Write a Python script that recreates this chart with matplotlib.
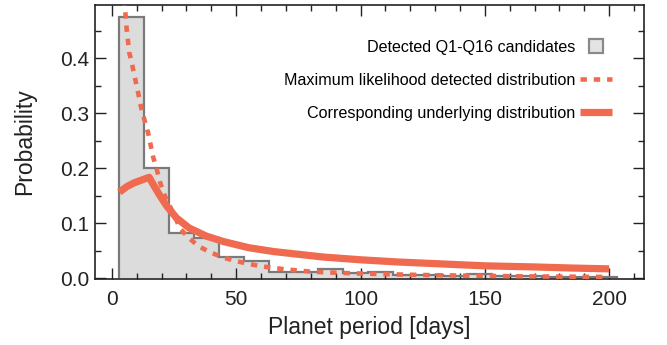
import numpy as np
import matplotlib
matplotlib.use("Agg")
import matplotlib.pyplot as plt
from matplotlib.lines import Line2D
from matplotlib.ticker import MultipleLocator

plt.rcParams['font.family'] = ['Liberation Sans', 'DejaVu Sans']

# --- data ---
bin_edges = [3, 13, 23, 33, 43, 53, 63, 73, 83, 93, 103, 113, 123, 133, 143,
             153, 163, 173, 183, 193, 203]
hist_prob = [0.476, 0.200, 0.082, 0.073, 0.0385, 0.032, 0.011, 0.012, 0.0173,
             0.010, 0.012, 0.006, 0.006, 0.005, 0.008, 0.005, 0.004, 0.003,
             0.003, 0.002]

ml_period = [3, 5.2, 5.9, 7.0, 7.9, 8.6, 10.6, 11.7, 13.3, 14.6, 16.6, 18.0,
             19.3, 20.9, 22, 24.7, 27.4, 31.1, 35.1, 39.4, 44.5, 49.5, 59.5,
             69.6, 80, 90, 100, 110, 120, 130, 140, 150, 160, 170, 180, 190, 200]
ml_prob = [0.62, 0.497, 0.455, 0.41, 0.395, 0.379, 0.337, 0.312, 0.285, 0.264,
           0.221, 0.199, 0.176, 0.155, 0.143, 0.119, 0.091, 0.073, 0.058, 0.048,
           0.0385, 0.032, 0.0225, 0.0167, 0.0124, 0.0105, 0.009, 0.0078, 0.0068,
           0.006, 0.0053, 0.0047, 0.0042, 0.0038, 0.0034, 0.0031, 0.0028]

under_period = [3, 6, 9, 12, 15, 17, 19, 22, 26, 31, 38, 45, 55, 65, 75, 85,
                100, 115, 130, 150, 170, 185, 200]
under_prob = [0.157, 0.167, 0.174, 0.179, 0.184, 0.168, 0.153, 0.132, 0.110,
              0.092, 0.077, 0.067, 0.056, 0.049, 0.044, 0.039, 0.034, 0.030,
              0.027, 0.023, 0.021, 0.019, 0.0175]

red = '#F06A4F'
fill_gray = '#DCDCDC'
edge_gray = '#7A7A7A'
ink = '#222222'

fig = plt.figure(figsize=(6.67, 3.45), dpi=100)
ax = fig.add_axes([0.1424, 0.1904, 0.9655 - 0.1424, 0.9864 - 0.1904])

# histogram as filled step
ax.stairs(hist_prob, bin_edges, fill=True, color=fill_gray, zorder=1)
ax.stairs(hist_prob, bin_edges, baseline=0, color=edge_gray, lw=1.6, zorder=2)

ax.plot(under_period, under_prob, color=red, lw=5.2, solid_capstyle='butt', zorder=3)
ax.plot(ml_period, ml_prob, color=red, lw=3.3, dashes=(1.4, 1.5), zorder=4)

ax.set_xlim(-6.8, 214)
ax.set_ylim(-0.0015, 0.4978)
ax.xaxis.set_major_locator(MultipleLocator(50))
ax.xaxis.set_minor_locator(MultipleLocator(10))
ax.yaxis.set_major_locator(MultipleLocator(0.1))
ax.yaxis.set_minor_locator(MultipleLocator(0.05))
ax.tick_params(which='both', direction='in', top=True, right=True, width=1.0,
               color=ink, labelcolor=ink)
ax.tick_params(which='major', length=8, labelsize=15)
ax.tick_params(axis='x', which='major', pad=8)
ax.tick_params(axis='y', which='major', pad=4)
ax.tick_params(which='minor', length=4)
for s in ax.spines.values():
    s.set_linewidth(1.2)
    s.set_color(ink)

ax.set_xlabel("Planet period [days]", fontsize=16.5, labelpad=5, color=ink)
ax.set_ylabel("Probability", fontsize=16.5, labelpad=17, color=ink)

handles = [
    Line2D([], [], ls='none', marker='s', markersize=10,
           markerfacecolor='#E4E4E4', markeredgecolor='#8A8A8A', markeredgewidth=1.6),
    Line2D([], [], color=red, lw=3.3, dashes=(1.4, 1.5)),
    Line2D([], [], color=red, lw=5.2, solid_capstyle='butt'),
]
labels = ["Detected Q1-Q16 candidates",
          "Maximum likelihood detected distribution",
          "Corresponding underlying distribution"]
ax.legend(handles, labels, loc='upper right', bbox_to_anchor=(0.942, 0.873),
          frameon=False, markerfirst=False, fontsize=11.6, handlelength=2.0,
          handletextpad=0.3, labelspacing=1.12, borderpad=0, borderaxespad=0)

fig.savefig("out.png", dpi=100)
